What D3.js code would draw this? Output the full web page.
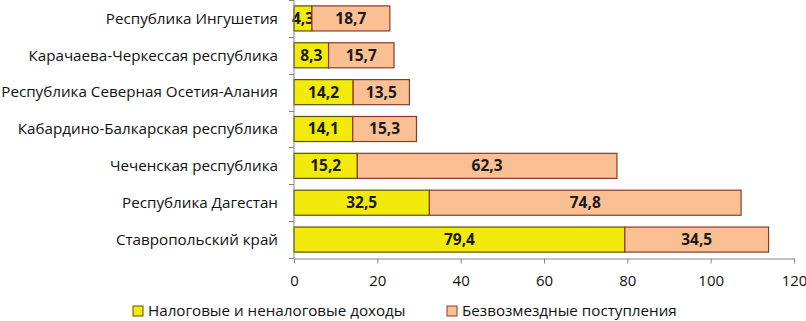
<!DOCTYPE html>
<html><head><meta charset="utf-8">
<script src="https://cdn.jsdelivr.net/npm/d3@7"></script>
<style>body{margin:0;background:#fff}svg{display:block}</style>
</head><body>
<svg id="c" width="806" height="321"></svg>
<script>
const categories = ["Республика Ингушетия","Карачаева-Черкессая республика","Республика Северная Осетия-Алания","Кабардино-Балкарская республика","Чеченская республика","Республика Дагестан","Ставропольский край"];
const taxIncome = [4.3, 8.3, 14.2, 14.1, 15.2, 32.5, 79.4];
const grants = [18.7, 15.7, 13.5, 15.3, 62.3, 74.8, 34.5];
const seriesNames = ["Налоговые и неналоговые доходы","Безвозмездные поступления"];
const xTicks = [0,20,40,60,80,100,120];

const font = "'Open Sans', 'Noto Sans', sans-serif";
const colors = ["#f2ea0a","#fbbf94"];
const strokes = ["#5a5200","#8c3b26"];
const svg = d3.select("#c");
const x = d3.scaleLinear().domain([0,120]).range([294,794]);
const y = d3.scaleBand().domain(categories).range([0,258]).paddingInner(0.32).paddingOuter(0.16);
const fmt = v => String(v).replace(".", ",");

// bars
categories.forEach((c,i) => {
  const segs = [[0, taxIncome[i]], [taxIncome[i], taxIncome[i]+grants[i]]];
  segs.forEach((s,k) => {
    svg.append("rect").attr("x", x(s[0])).attr("y", y(c)).attr("width", x(s[1])-x(s[0])).attr("height", y.bandwidth())
      .attr("fill", colors[k]).attr("stroke", strokes[k]).attr("stroke-width", 1.2);
    svg.append("text").attr("x", (x(s[0])+x(s[1]))/2).attr("y", y(c)+y.bandwidth()/2).attr("dy","0.35em")
      .attr("text-anchor","middle").attr("font-family",font).attr("font-weight","bold").attr("font-size",15.5)
      .attr("fill","#1a1a1a").text(fmt(k===0?taxIncome[i]:grants[i]));
  });
});

// left axis
const axisColor = "#868686";
svg.append("line").attr("x1",294).attr("x2",294).attr("y1",0).attr("y2",258).attr("stroke",axisColor);
for (let i=0;i<=categories.length;i++){
  const yy = Math.round(i*258/categories.length)+0.5;
  svg.append("line").attr("x1",289).attr("x2",294).attr("y1",yy).attr("y2",yy).attr("stroke",axisColor);
}
categories.forEach(c => {
  svg.append("text").attr("x",278).attr("y",y(c)+y.bandwidth()/2).attr("dy","0.35em").attr("text-anchor","end")
    .attr("font-family",font).attr("font-size",15.2).attr("fill","#111").text(c);
});

// bottom axis
const xa = svg.append("g").attr("transform","translate(0,258.5)").call(d3.axisBottom(x).tickValues(xTicks).tickSize(5).tickSizeOuter(0));
xa.selectAll("path,line").attr("stroke",axisColor);
xa.selectAll("text").attr("font-family",font).attr("font-size",15).attr("fill","#111").attr("dy","1.3em");

// legend
const lg = [[133,148],[447,462]];
seriesNames.forEach((n,k) => {
  svg.append("rect").attr("x",lg[k][0]).attr("y",306).attr("width",10).attr("height",10)
    .attr("fill",colors[k]).attr("stroke",strokes[k]).attr("stroke-width",1);
  svg.append("text").attr("x",lg[k][1]).attr("y",311).attr("dy","0.35em").attr("font-family",font).attr("font-size",15.2)
    .attr("fill","#111").text(n);
});
</script>
</body></html>
